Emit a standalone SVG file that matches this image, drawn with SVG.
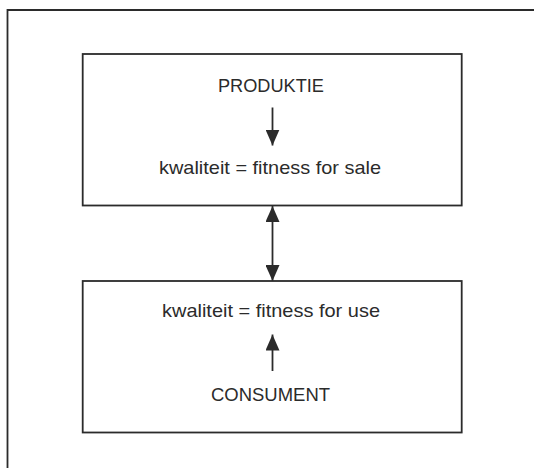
<svg xmlns="http://www.w3.org/2000/svg" width="534" height="468" viewBox="0 0 534 468">
  <defs>
    <style>
      .box { fill: none; stroke: #2b2b2b; stroke-width: 1.8; }
      .frame { fill: none; stroke: #2b2b2b; stroke-width: 1.8; }
      .lbl { font-family: "Liberation Sans", Arial, sans-serif; font-size: 19px; fill: #2b2b2b; text-anchor: middle; }
      .conn { stroke: #2b2b2b; stroke-width: 1.8; fill: none; }
      .head { fill: #2b2b2b; }
    </style>
    <marker id="arr" viewBox="0 0 16 14" refX="16" refY="7" markerWidth="16" markerHeight="14" markerUnits="userSpaceOnUse" orient="auto-start-reverse">
      <path d="M0,0 L16,7 L0,14 Z" class="head"/>
    </marker>
  </defs>
  <rect width="534" height="468" fill="#ffffff"/>
  <path class="frame" d="M7.5,468 L7.5,10 L534,10"/>
  <g id="produktie">
    <rect class="box" x="82.7" y="54" width="379" height="151.5"/>
    <text class="lbl" x="271" y="91.5" textLength="106" lengthAdjust="spacingAndGlyphs">PRODUKTIE</text>
    <text class="lbl" x="270" y="174" textLength="222" lengthAdjust="spacingAndGlyphs">kwaliteit = fitness for sale</text>
  </g>
  <g id="consument">
    <rect class="box" x="82.7" y="281" width="379" height="151.5"/>
    <text class="lbl" x="271" y="316.5" textLength="218" lengthAdjust="spacingAndGlyphs">kwaliteit = fitness for use</text>
    <text class="lbl" x="270.5" y="401" textLength="119" lengthAdjust="spacingAndGlyphs">CONSUMENT</text>
  </g>
  <g id="connectors">
    <line class="conn" x1="272.5" y1="107.5" x2="272.5" y2="145.5" marker-end="url(#arr)"/>
    <line class="conn" x1="272.5" y1="206" x2="272.5" y2="281" marker-start="url(#arr)" marker-end="url(#arr)"/>
    <line class="conn" x1="272.5" y1="371" x2="272.5" y2="334.5" marker-end="url(#arr)"/>
  </g>
</svg>
